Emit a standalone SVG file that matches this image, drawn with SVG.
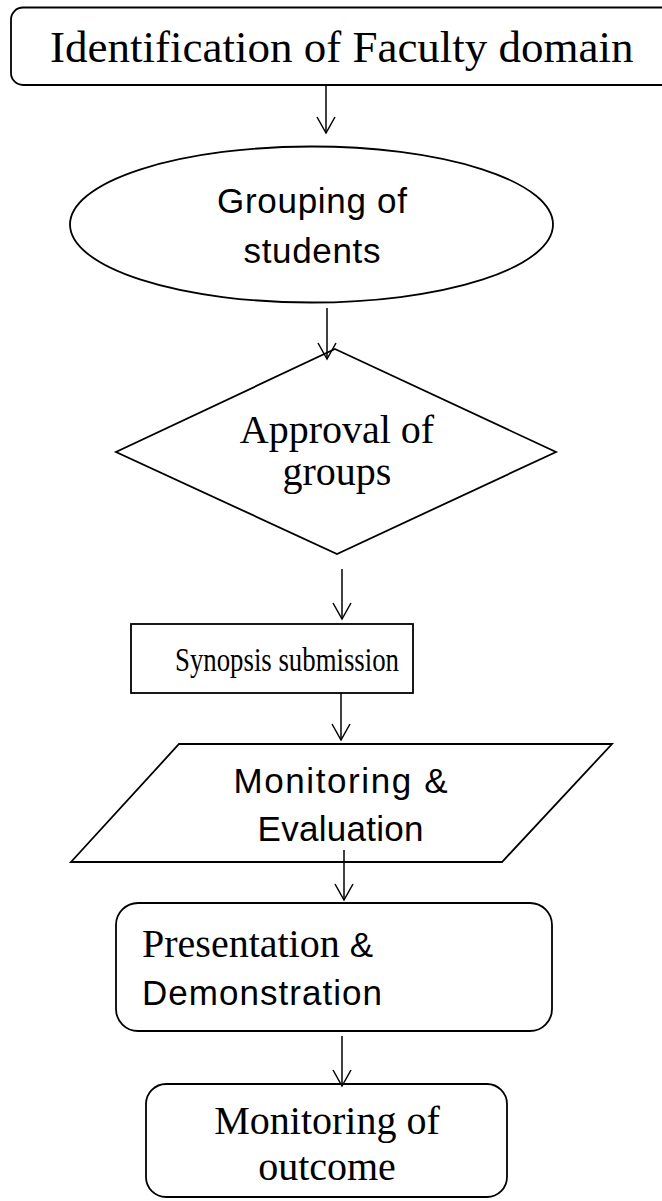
<svg xmlns="http://www.w3.org/2000/svg" width="662" height="1201" viewBox="0 0 662 1201">
<defs>
<style>
.shape{fill:#fff;stroke:#000;stroke-width:1.8}
.conn{fill:none;stroke:#000;stroke-width:1.5}
.serif{font-family:"Liberation Serif","Times New Roman",serif;fill:#000}
.sans{font-family:"Liberation Sans",Arial,sans-serif;font-size:35px;fill:#000}
</style>
<marker id="arr" markerUnits="userSpaceOnUse" orient="auto" refX="0" refY="0" markerWidth="20" markerHeight="20" overflow="visible">
<path d="M-16,-9 L0,0 L-16,9" fill="none" stroke="#000" stroke-width="1.5"/>
</marker>
</defs>
<rect width="662" height="1201" fill="#fff"/>
<g id="n1">
<rect class="shape" x="11" y="7.5" width="700" height="77.5" rx="12"/>
<text class="serif" x="50" y="62" font-size="45">Identification of Faculty domain</text>
</g>
<g id="n2">
<ellipse class="shape" cx="311.5" cy="224.5" rx="241.5" ry="78"/>
<text class="sans" x="312" y="213" text-anchor="middle" textLength="190">Grouping of</text>
<text class="sans" x="312" y="263" text-anchor="middle" textLength="137">students</text>
</g>
<g id="n3">
<polygon class="shape" points="335,349 556,452 337,554 116,452"/>
<text class="serif" x="337" y="443" font-size="40" text-anchor="middle">Approval of</text>
<text class="serif" x="337" y="485" font-size="40" text-anchor="middle">groups</text>
</g>
<g id="n4">
<rect class="shape" x="131" y="624" width="282" height="69"/>
<text class="serif" x="175" y="671" font-size="34" textLength="224" lengthAdjust="spacingAndGlyphs">Synopsis submission</text>
</g>
<g id="n5">
<polygon class="shape" points="179,744 612,744 502,862 71,862"/>
<text class="sans" x="340.5" y="793" text-anchor="middle" textLength="214">Monitoring &amp;</text>
<text class="sans" x="340.5" y="841" text-anchor="middle" textLength="166">Evaluation</text>
</g>
<g id="n6">
<rect class="shape" x="116" y="903" width="436" height="128" rx="22"/>
<text x="142" y="957"><tspan class="serif" font-size="40">Presentation </tspan><tspan class="sans">&amp;</tspan></text>
<text class="sans" x="142" y="1005" textLength="240">Demonstration</text>
</g>
<g id="n7">
<rect class="shape" x="146" y="1084" width="361" height="113" rx="20"/>
<text class="serif" x="327" y="1134" font-size="40" text-anchor="middle">Monitoring of</text>
<text class="serif" x="327" y="1180" font-size="40" text-anchor="middle">outcome</text>
</g>
<g id="connectors">
<line class="conn" x1="326" y1="85" x2="326" y2="133" marker-end="url(#arr)"/>
<line class="conn" x1="327" y1="308" x2="327" y2="359" marker-end="url(#arr)"/>
<line class="conn" x1="342" y1="569" x2="342" y2="619" marker-end="url(#arr)"/>
<line class="conn" x1="341" y1="693" x2="341" y2="740" marker-end="url(#arr)"/>
<line class="conn" x1="344" y1="850" x2="344" y2="900" marker-end="url(#arr)"/>
<line class="conn" x1="342" y1="1036" x2="342" y2="1086" marker-end="url(#arr)"/>
</g>
</svg>
